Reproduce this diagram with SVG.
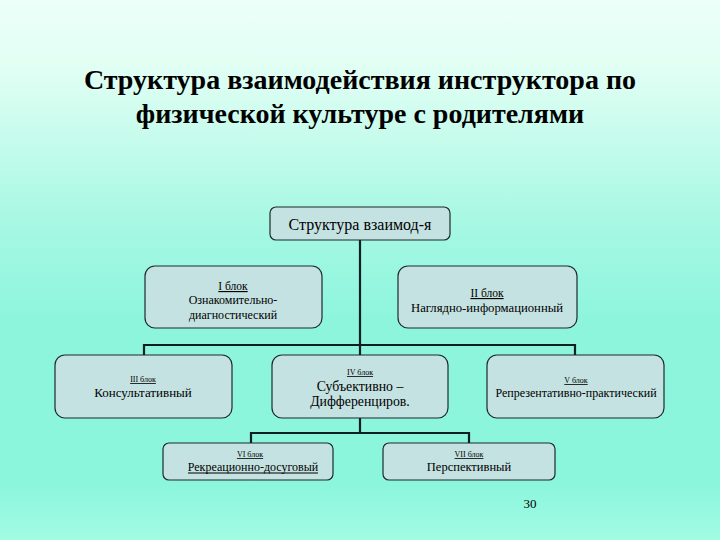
<svg xmlns="http://www.w3.org/2000/svg" width="720" height="540" viewBox="0 0 720 540">
<defs>
<linearGradient id="bg" x1="0" y1="0" x2="0" y2="1">
<stop offset="0" stop-color="#ecfff9"/>
<stop offset="0.12" stop-color="#e2fff4"/>
<stop offset="0.4" stop-color="#a9f8e4"/>
<stop offset="0.6" stop-color="#8cf5dc"/>
<stop offset="0.9" stop-color="#8cf6dd"/>
<stop offset="1" stop-color="#a2fbe3"/>
</linearGradient>
<style>
.title{font-family:"Liberation Serif","Times New Roman",serif;font-weight:bold;font-size:28px;fill:#000;text-anchor:middle}
.box{fill:#c4e2e1;stroke:#1b2b2b;stroke-width:1.2}
.t{font-family:"Liberation Serif","Times New Roman",serif;fill:#000;text-anchor:middle}
.lbl{font-size:8px;text-decoration:underline}
.line{fill:none;stroke:#0f2020;stroke-width:2.2}
</style>
</defs>
<rect x="0" y="0" width="720" height="540" fill="url(#bg)"/>
<text class="title" x="360" y="89">Структура взаимодействия инструктора по</text>
<text class="title" x="360" y="123">физической культуре с родителями</text>

<g id="connectors">
<polyline class="line" points="360,240 360,355"/>
<polyline class="line" points="144,355 144,345 575,345 575,355"/>
<polyline class="line" points="360,418 360,433"/>
<polyline class="line" points="251,443 251,433 469,433 469,443"/>
</g>

<g id="root">
<rect class="box" x="270" y="207" width="180" height="33" rx="6"/>
<text class="t" x="360" y="230" font-size="16">Структура взаимод-я</text>
</g>
<g id="n1">
<rect class="box" x="145" y="266" width="177" height="62" rx="10"/>
<text class="t" x="233" y="290" font-size="11.5" text-decoration="underline">I блок</text>
<text class="t" x="233" y="304" font-size="12">Ознакомительно-</text>
<text class="t" x="233" y="319" font-size="12">диагностический</text>
</g>
<g id="n2">
<rect class="box" x="398" y="266" width="179" height="62" rx="10"/>
<text class="t" x="487" y="297" font-size="11.5" text-decoration="underline">II блок</text>
<text class="t" x="487" y="312" font-size="12.7">Наглядно-информационный</text>
</g>
<g id="n3">
<rect class="box" x="55" y="355" width="177" height="63" rx="10"/>
<text class="t lbl" x="143" y="382">III блок</text>
<text class="t" x="143" y="397" font-size="13">Консультативный</text>
</g>
<g id="n4">
<rect class="box" x="272" y="355" width="176" height="63" rx="10"/>
<text class="t lbl" x="360" y="375">IV блок</text>
<text class="t" x="360" y="391" font-size="13.8">Субъективно –</text>
<text class="t" x="360" y="406" font-size="13.8">Дифференциров.</text>
</g>
<g id="n5">
<rect class="box" x="487" y="355" width="177" height="63" rx="10"/>
<text class="t lbl" x="576" y="383">V блок</text>
<text class="t" x="576" y="397" font-size="12">Репрезентативно-практический</text>
</g>
<g id="n6">
<rect class="box" x="163" y="443" width="170" height="37" rx="6"/>
<text class="t lbl" x="250" y="457">VI блок</text>
<text class="t" x="253" y="471" font-size="12">Рекреационно-досуговый</text>
<line x1="188" y1="473" x2="318" y2="473" stroke="#000" stroke-width="1"/>
</g>
<g id="n7">
<rect class="box" x="383" y="443" width="172" height="37" rx="6"/>
<text class="t lbl" x="469" y="457">VII блок</text>
<text class="t" x="469" y="471" font-size="12.5">Перспективный</text>
</g>
<text class="t" x="530" y="508" font-size="13">30</text>
</svg>
